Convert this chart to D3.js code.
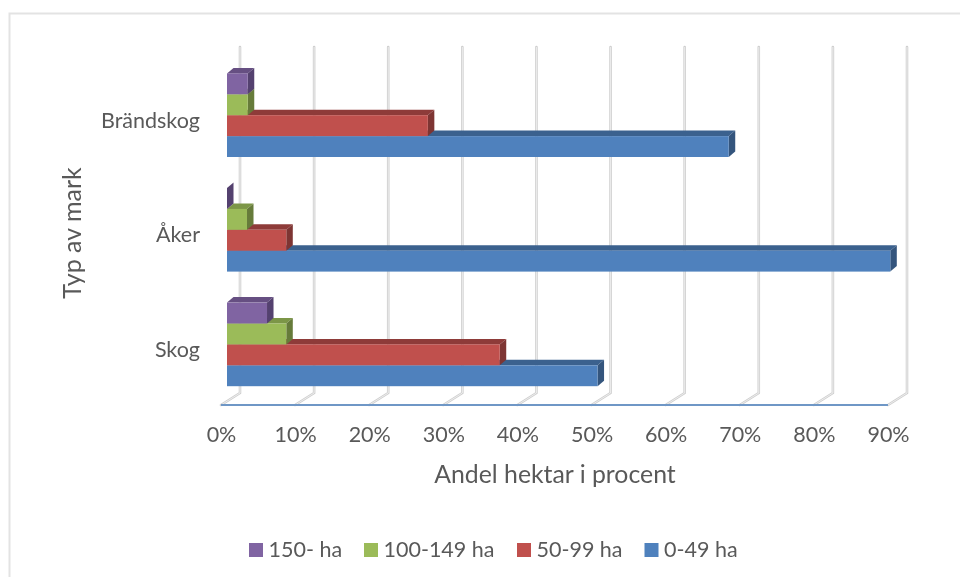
<!DOCTYPE html>
<html><head><meta charset="utf-8">
<script src="https://cdn.jsdelivr.net/npm/d3@7"></script>
<style>html,body{margin:0;background:#fff}svg{display:block;filter:blur(0.35px)}text{font-family:Lato,"Open Sans",sans-serif;fill:#595959}</style>
</head><body><svg id="c" width="960" height="577"></svg>
<script>
const categories = ["Brändskog","Åker","Skog"];
const seriesNames = ["150- ha","100-149 ha","50-99 ha","0-49 ha"];
const v150 = [2.8,0,5.4];
const v100 = [2.8,2.7,8];
const v50  = [27.1,8,36.8];
const v0   = [67.7,89.5,50];
const seriesValues = [v150,v100,v50,v0];
const colors = ["#8064A2","#9BBB59","#C0504D","#4F81BD"];
const topCol = ["#664F82","#7C9647","#8E3B39","#3B618E"];
const sideCol = ["#54416F","#667B3A","#7E3533","#34557D"];
const ticks = d3.range(0,100,10);

const svg = d3.select("#c");
const dx=6.5, dy=5.5;
const x = d3.scaleLinear().domain([0,90]).range([227,894]);
const xFloor = d3.scaleLinear().domain([0,90]).range([221,888]);
const y = d3.scalePoint().domain(categories).range([115.2,344.4]);
const sub = d3.scaleBand().domain(seriesNames).range([-41.8,41.8]);

// frame: top and left edges only, the others fall off the crop
svg.append("path").attr("d","M9.5,577V13.5H960").attr("fill","none").attr("stroke","#e3e3e3").attr("stroke-width",2);

// gridlines
const floorY=405, backFloorY=393, topY=47;
svg.append("g").selectAll("path").data(ticks).join("path")
  .attr("d",d=>`M${xFloor(d)+19},${topY}V${backFloorY}L${xFloor(d)},${floorY}`)
  .attr("fill","none").attr("stroke","#cfcfcf").attr("stroke-width",2.6).attr("stroke-linejoin","round").attr("stroke-linecap","round");
svg.append("g").selectAll("path").data(ticks).join("path")
  .attr("d",d=>`M${xFloor(d)+19},${topY}V${backFloorY}L${xFloor(d)},${floorY}`)
  .attr("fill","none").attr("stroke","#f4f4f4").attr("stroke-width",0.8);
// floor line
svg.append("line").attr("x1",xFloor(0)).attr("x2",xFloor(90)).attr("y1",floorY).attr("y2",floorY).attr("stroke","#6f97c6").attr("stroke-width",2);

// bars, drawn from the bottom up so each bar hides the depth face of the one below
const rows=[];
categories.forEach((c,i)=>seriesNames.forEach((s,j)=>rows.push({c,s,j,v:seriesValues[j][i]})));
const ordered = rows.slice().sort((a,b)=>(y(b.c)+sub(b.s))-(y(a.c)+sub(a.s)));
const bars = svg.append("g").selectAll("g").data(ordered).join("g");
const bh = sub.bandwidth();
bars.append("path").attr("fill",d=>topCol[d.j]).attr("d",d=>{
  const t=y(d.c)+sub(d.s), l=x(0), r=x(d.v);
  return `M${l},${t}L${l+dx},${t-dy}H${r+dx}L${r},${t}Z`;});
bars.append("path").attr("fill",d=>sideCol[d.j]).attr("d",d=>{
  const t=y(d.c)+sub(d.s), r=x(d.v);
  return `M${r},${t}L${r+dx},${t-dy}V${t+bh-dy}L${r},${t+bh}Z`;});
bars.append("rect").attr("fill",d=>colors[d.j])
  .attr("x",x(0)).attr("width",d=>x(d.v)-x(0))
  .attr("y",d=>y(d.c)+sub(d.s)).attr("height",bh);

// tick labels
svg.append("g").selectAll("text").data(ticks).join("text")
  .attr("x",d=>xFloor(d)+0.5).attr("y",442).attr("text-anchor","middle").attr("font-size",21.5).text(d=>d+"%");
// category labels
svg.append("g").selectAll("text").data(categories).join("text")
  .attr("x",200).attr("y",d=>y(d)+12.5).attr("text-anchor","end").attr("font-size",21.5).text(d=>d);
// axis titles
svg.append("text").attr("x",555).attr("y",483).attr("text-anchor","middle").attr("font-size",24.8).text("Andel hektar i procent");
svg.append("text").attr("transform","translate(81,233) rotate(-90)").attr("text-anchor","middle").attr("font-size",25).text("Typ av mark");

// legend
const legendX=[249,364,517,644.5];
const leg=svg.append("g").selectAll("g").data(seriesNames).join("g");
leg.append("rect").attr("x",(d,i)=>legendX[i]).attr("y",543).attr("width",14).attr("height",14).attr("fill",(d,i)=>colors[i]);
leg.append("text").attr("x",(d,i)=>legendX[i]+19.5).attr("y",557).attr("font-size",21.5).text(d=>d);
</script></body></html>
